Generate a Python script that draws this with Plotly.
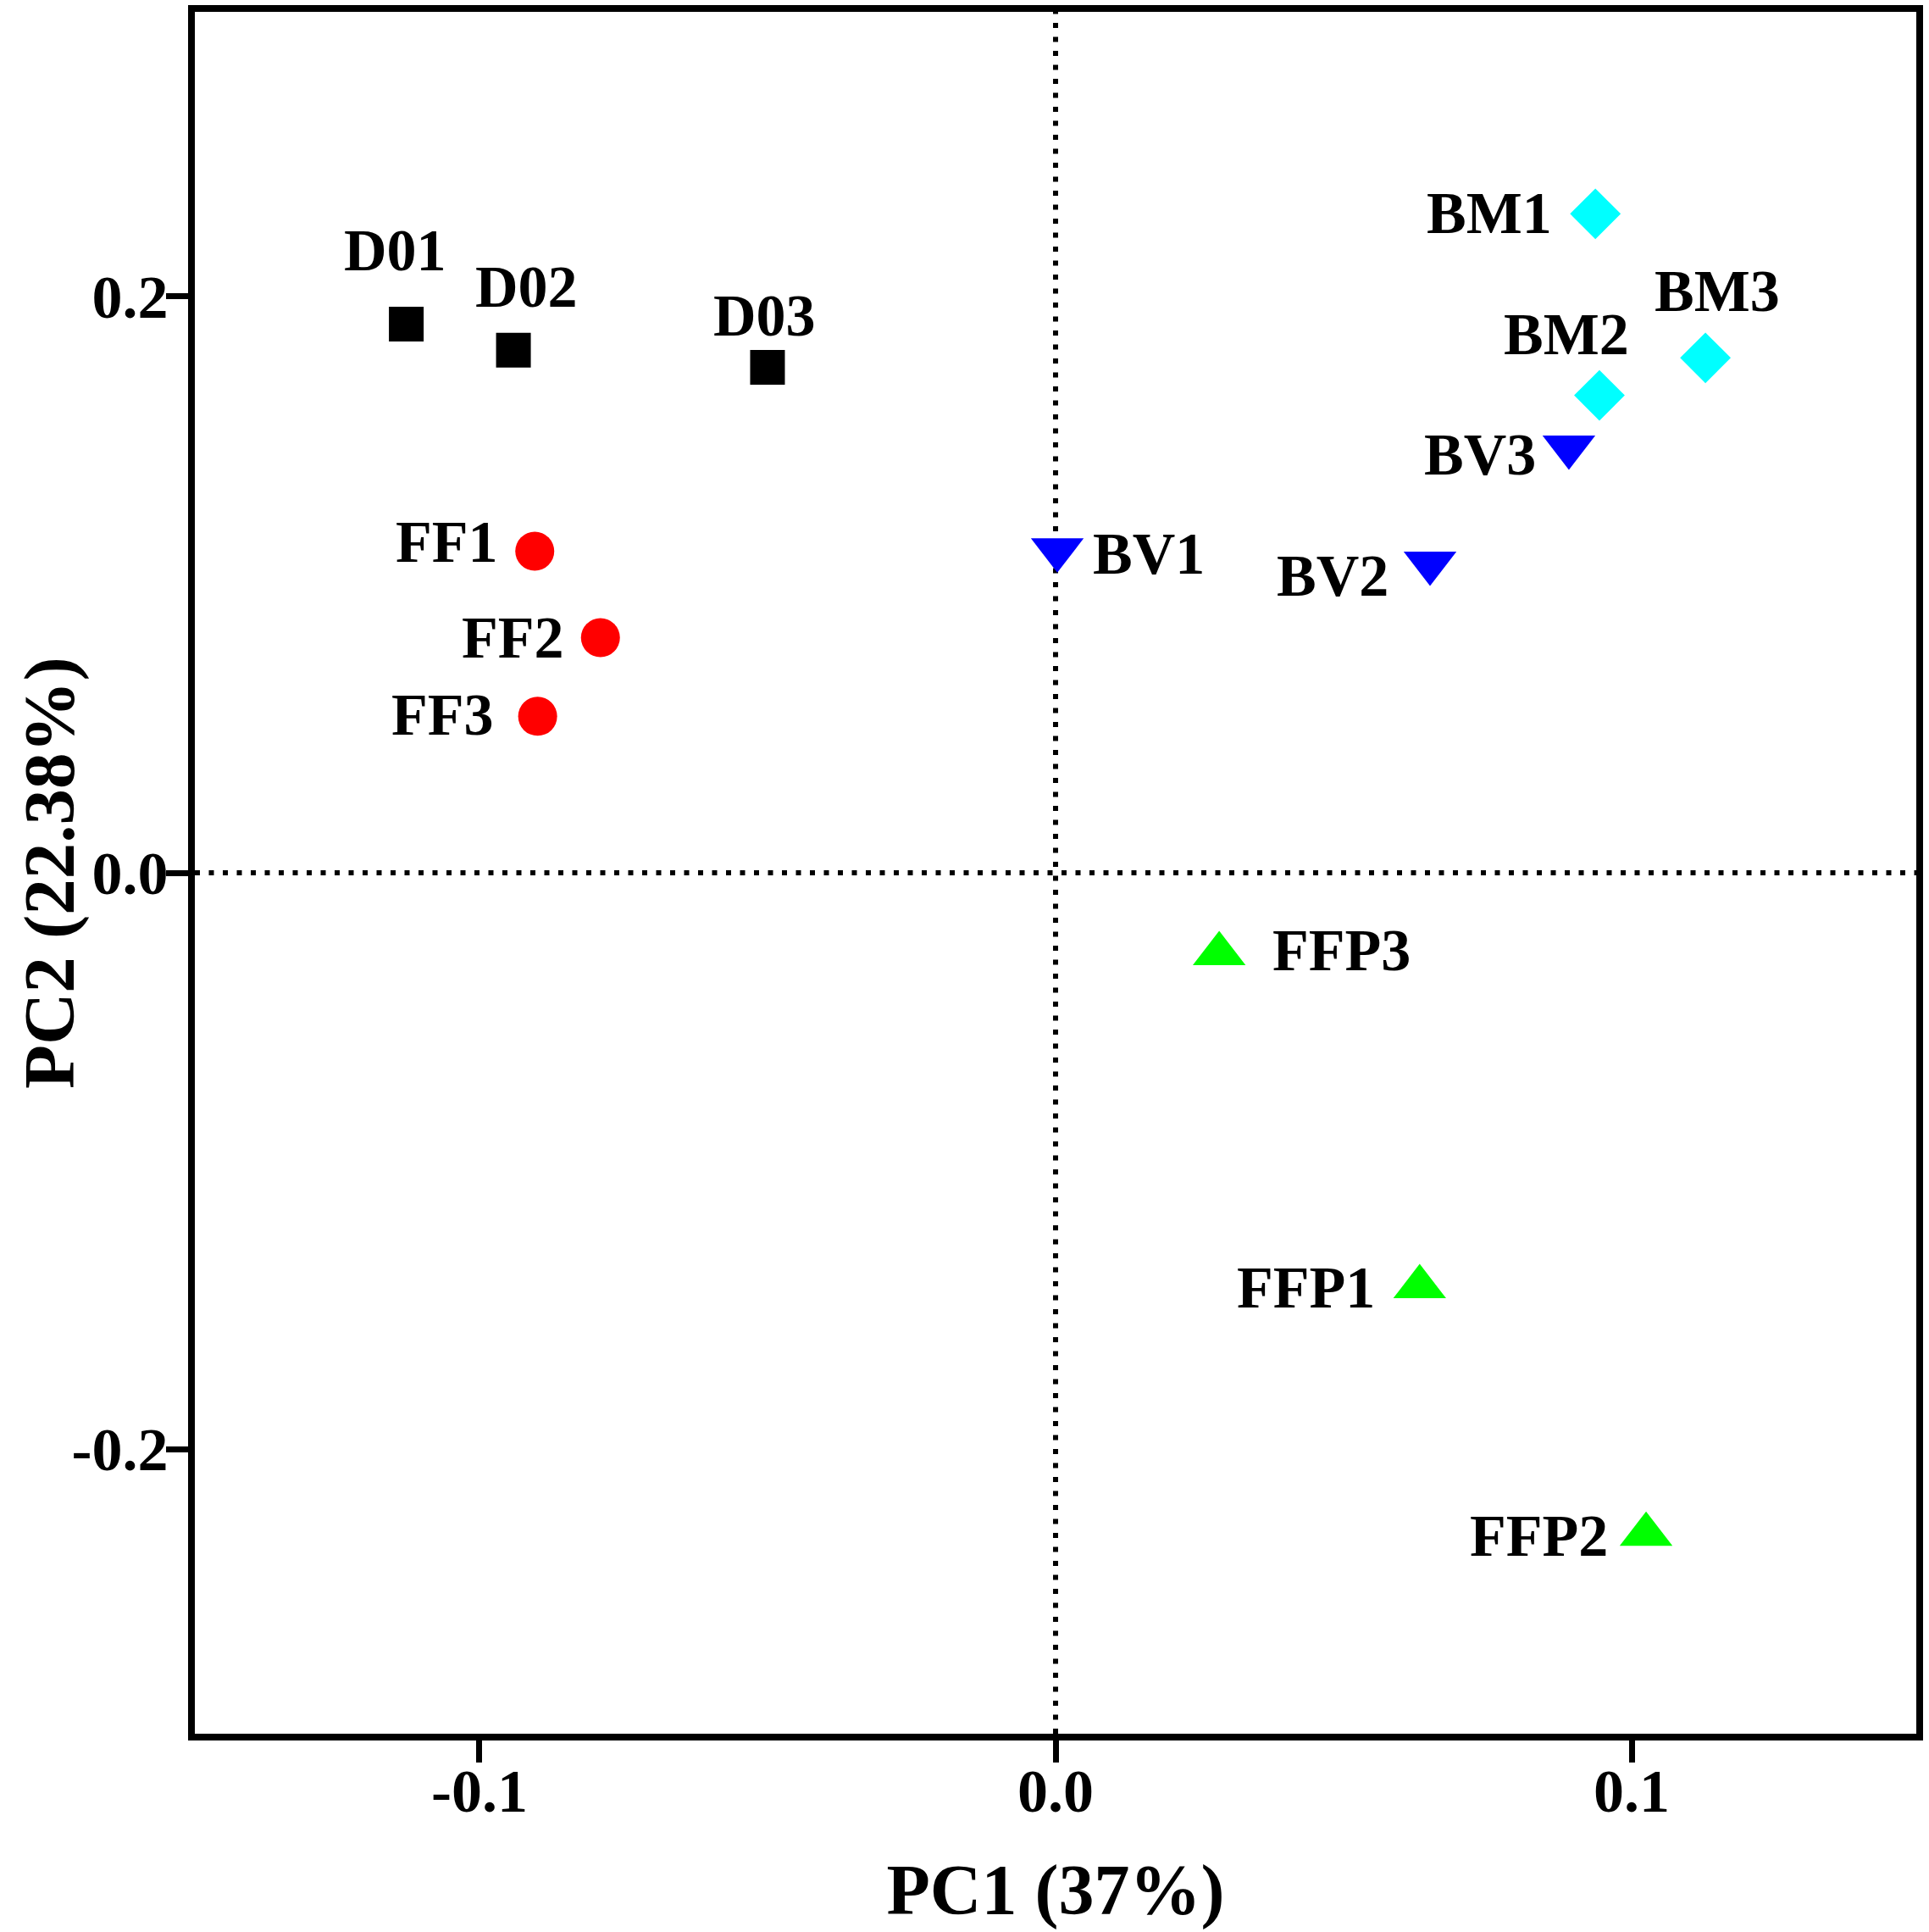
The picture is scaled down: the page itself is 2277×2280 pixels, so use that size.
import plotly.graph_objects as go

# ---- data ----
groups = ["D0", "FF", "BV", "BM", "FFP"]
labels = {
    "D0": ["D01", "D02", "D03"],
    "FF": ["FF1", "FF2", "FF3"],
    "BV": ["BV1", "BV2", "BV3"],
    "BM": ["BM1", "BM2", "BM3"],
    "FFP": ["FFP1", "FFP2", "FFP3"],
}
pc1 = {
    "D0": [-0.1127, -0.0941, -0.0500],
    "FF": [-0.0904, -0.0790, -0.0899],
    "BV": [0.0003, 0.0650, 0.0891],
    "BM": [0.0937, 0.0944, 0.1128],
    "FFP": [0.0632, 0.1025, 0.0284],
}
pc2 = {
    "D0": [0.1904, 0.1814, 0.1754],
    "FF": [0.1116, 0.0816, 0.0543],
    "BV": [0.1121, 0.1075, 0.1478],
    "BM": [0.2287, 0.1657, 0.1787],
    "FFP": [-0.1437, -0.2296, -0.0281],
}
x_ticks = [-0.1, 0.0, 0.1]
x_ticklabels = ["-0.1", "0.0", "0.1"]
y_ticks = [-0.2, 0.0, 0.2]
y_ticklabels = ["-0.2", "0.0", "0.2"]
x_title = "PC1 (37%)"
y_title = "PC2 (22.38%)"

# ---- styles ----
style = {
    "D0": dict(symbol="square", color="#000000", size=41),
    "FF": dict(symbol="circle", color="#FF0000", size=46),
    "BV": dict(symbol="triangle-down", color="#0000FF", size=54),
    "BM": dict(symbol="diamond", color="#00FFFF", size=46),
    "FFP": dict(symbol="triangle-up", color="#00FF00", size=54),
}
# label offsets in pixels (xshift, yshift) relative to the marker
label_shift = {
    "D01": (-13, 87), "D02": (15, 75), "D03": (-3, 61),
    "FF1": (-104, 11), "FF2": (-103, 0), "FF3": (-112, 2),
    "BV1": (108, -5), "BV2": (-115, -15), "BV3": (-105, -9),
    "BM1": (-125, 1), "BM2": (-39, 72), "BM3": (14, 79),
    "FFP1": (-134, -1), "FFP2": (-127, -2), "FFP3": (144, 4),
}

FONT = "Liberation Serif, Times New Roman, serif"

fig = go.Figure()
for g in groups:
    s = style[g]
    fig.add_trace(go.Scatter(
        x=pc1[g], y=pc2[g], mode="markers", name=g,
        marker=dict(symbol=s["symbol"], color=s["color"], size=s["size"],
                    line=dict(width=0)),
        showlegend=False, cliponaxis=False, hoverinfo="skip",
    ))
    for lab, xv, yv in zip(labels[g], pc1[g], pc2[g]):
        dx, dy = label_shift[lab]
        fig.add_annotation(
            x=xv, y=yv, xref="x", yref="y", text=lab, showarrow=False,
            xshift=dx, yshift=dy, xanchor="center", yanchor="middle",
            font=dict(family=FONT, size=70, color="black", weight="bold"),
        )

# y-axis title (as an annotation so it can sit close to the page edge)
fig.add_annotation(
    x=0, y=0.5, xref="paper", yref="paper", text=y_title, showarrow=False,
    textangle=-90, xanchor="center", yanchor="middle", xshift=-172,
    borderpad=0,
    font=dict(family=FONT, size=85, color="black", weight="bold"),
)

# dotted zero lines
dot = dict(color="black", width=6, dash="6px,10.5px")
fig.add_shape(type="line", xref="x", yref="paper", x0=0, x1=0, y0=0, y1=1,
              line=dot, layer="below")
fig.add_shape(type="line", xref="paper", yref="y", x0=0, x1=1, y0=0, y1=0,
              line=dot, layer="below")

axis_common = dict(
    showgrid=False, zeroline=False, showline=True, linewidth=8,
    linecolor="black", mirror=True, ticks="outside", ticklen=26,
    tickwidth=7, tickcolor="black", automargin=False,
    tickfont=dict(family=FONT, size=72, color="black", weight="bold"),
)
# axis lines are drawn just outside the plot area, so the range is trimmed
# by half a line width at each end to keep the scale of the reference
fig.update_xaxes(range=[-0.1494, 0.1494], tickvals=x_ticks, ticktext=x_ticklabels,
                 ticklabelstandoff=-28, **axis_common,
                 title=dict(text=x_title, standoff=50,
                            font=dict(family=FONT, size=84, color="black", weight="bold")))
fig.update_yaxes(range=[-0.2988, 0.2988], tickvals=y_ticks, ticktext=y_ticklabels,
                 ticklabelstandoff=-17, **axis_common)

fig.update_layout(
    width=2277, height=2280,
    margin=dict(l=230, r=15, t=14, b=234, autoexpand=False),
    plot_bgcolor="white", paper_bgcolor="white",
)

fig.write_html("out.html", config={"displayModeBar": False},
               post_script="document.body.style.margin='0';")
